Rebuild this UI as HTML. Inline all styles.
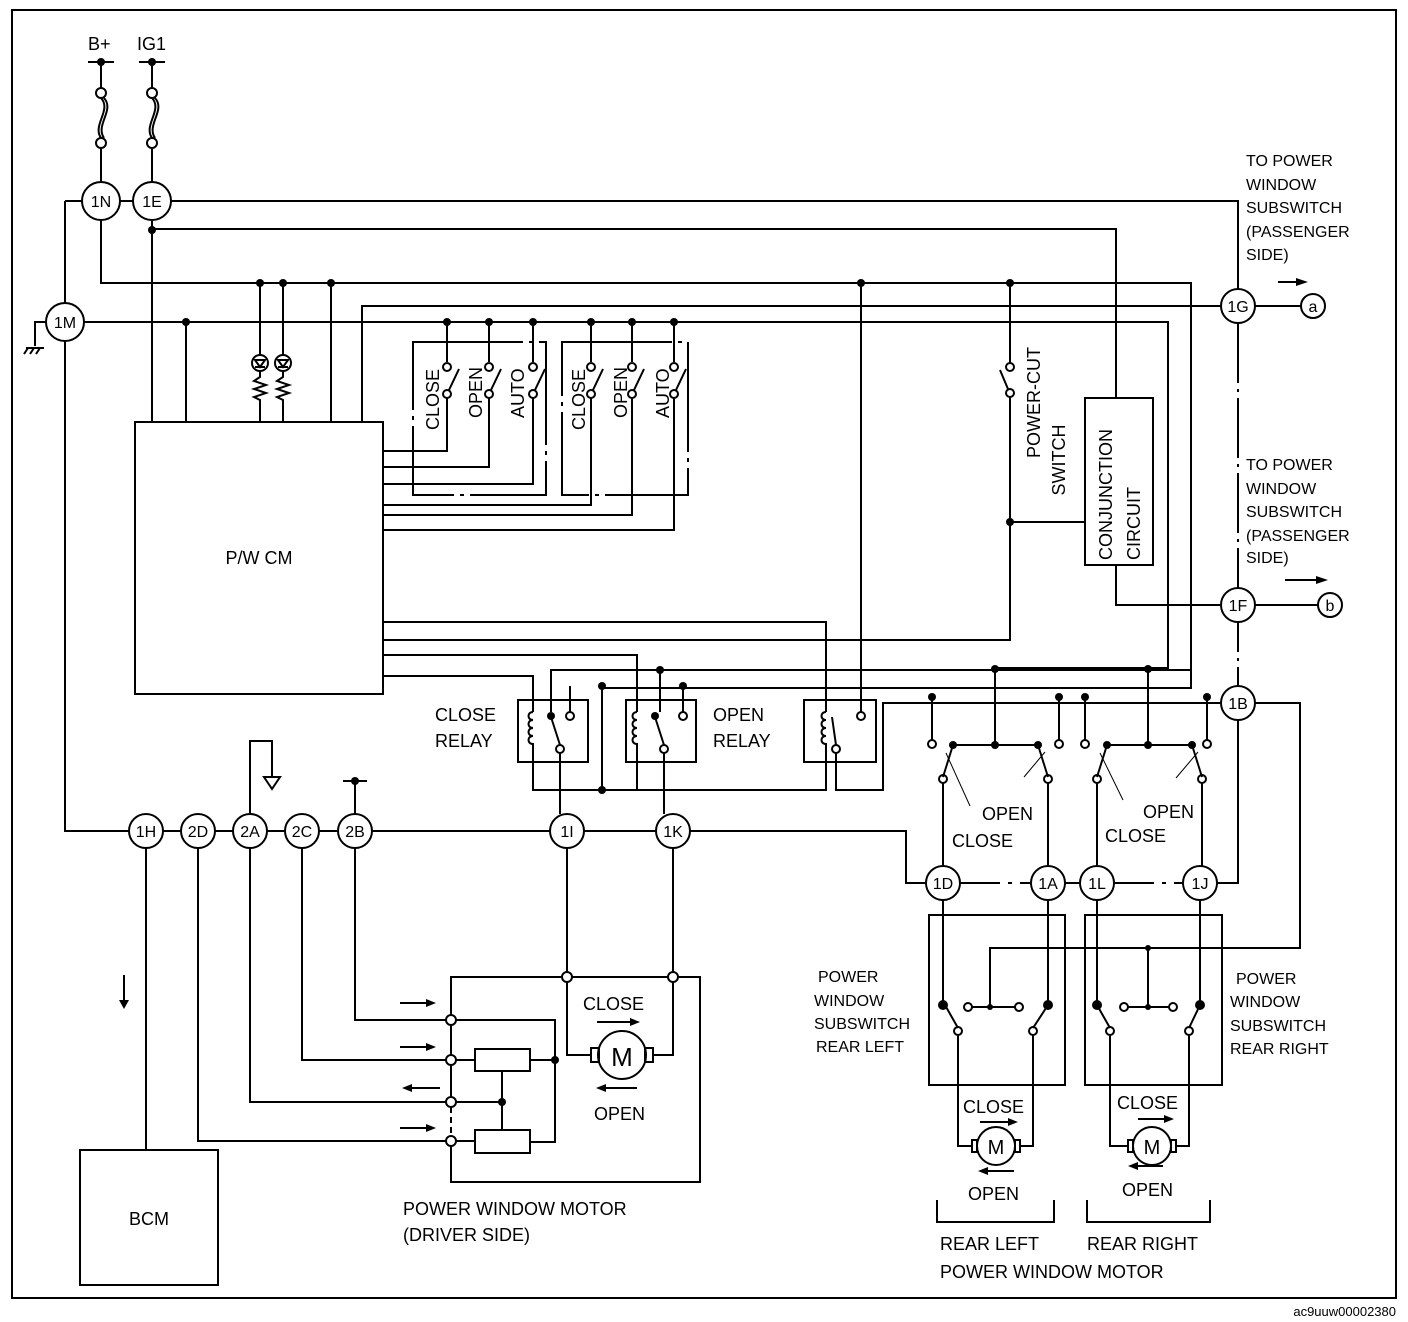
<!DOCTYPE html>
<html><head><meta charset="utf-8"><style>
html,body{margin:0;padding:0;background:#fff}
svg{display:block}
text{font-family:"Liberation Sans",Arial,sans-serif;fill:#000}
</style></head><body>
<svg width="1408" height="1322" viewBox="0 0 1408 1322" xmlns="http://www.w3.org/2000/svg">
<g fill="none" stroke="#000" stroke-width="2">
<rect x="12" y="10" width="1384" height="1288"/>
<line x1="88" y1="62" x2="114" y2="62"/><line x1="139" y1="62" x2="165" y2="62"/>
<line x1="101" y1="62" x2="101" y2="88"/><line x1="152" y1="62" x2="152" y2="88"/>
<circle cx="101" cy="93" r="5"/><circle cx="152" cy="93" r="5"/>
<path d="M101 98 C112 110 92 125 101 138"/><path d="M104 98 C115 110 95 125 104 138"/>
<path d="M152 98 C163 110 143 125 152 138"/><path d="M155 98 C166 110 146 125 155 138"/>
<circle cx="101" cy="143" r="5"/><circle cx="152" cy="143" r="5"/>
<line x1="101" y1="148" x2="101" y2="182"/><line x1="152" y1="148" x2="152" y2="182"/>
<circle cx="101" cy="201" r="19"/><circle cx="152" cy="201" r="19"/>
<circle cx="65" cy="322" r="19"/>
<circle cx="1238" cy="306" r="17"/><circle cx="1238" cy="605" r="17"/><circle cx="1238" cy="703" r="17"/>
<circle cx="146" cy="831" r="17"/><circle cx="198" cy="831" r="17"/><circle cx="250" cy="831" r="17"/>
<circle cx="302" cy="831" r="17"/><circle cx="355" cy="831" r="17"/>
<circle cx="567" cy="831" r="17"/><circle cx="673" cy="831" r="17"/>
<circle cx="943" cy="883" r="17"/><circle cx="1048" cy="883" r="17"/>
<circle cx="1097" cy="883" r="17"/><circle cx="1200" cy="883" r="17"/>
<circle cx="1313" cy="306" r="12"/><circle cx="1330" cy="605" r="12"/>
<line x1="82" y1="201" x2="65" y2="201"/><line x1="65" y1="201" x2="65" y2="303"/>
<line x1="120" y1="201" x2="133" y2="201"/>
<path d="M171 201 H1238 V289"/>
<path d="M152 220 V422"/>
<path d="M152 229 H1116 V398"/>
<path d="M101 220 V283 H1191 V688 H600"/>
<path d="M46 322 H35 V346"/><line x1="26" y1="348" x2="44" y2="348"/>
<line x1="28" y1="348" x2="24" y2="354"/><line x1="34" y1="348" x2="30" y2="354"/><line x1="40" y1="348" x2="36" y2="354"/>
<path d="M84 322 H1168 V668 H996"/>
<path d="M65 341 V831 H129"/>
<path d="M362 422 V306 H1221"/><line x1="1255" y1="306" x2="1301" y2="306"/>
<line x1="186" y1="322" x2="186" y2="422"/>
<line x1="331" y1="283" x2="331" y2="422"/>
<line x1="260" y1="283" x2="260" y2="355"/><line x1="283" y1="283" x2="283" y2="355"/>
<circle cx="260" cy="363" r="8"/><circle cx="283" cy="363" r="8"/>
<path d="M255 360 L260 367 L265 360 Z M255 367 H265"/><path d="M278 360 L283 367 L288 360 Z M278 367 H288"/>
<path d="M260 371 V377 l-6 4 12 4 -12 4 12 4 -12 4 6 3 V422"/>
<path d="M283 371 V377 l-6 4 12 4 -12 4 12 4 -12 4 6 3 V422"/>
<rect x="135" y="422" width="248" height="272"/>
<rect x="80" y="1150" width="138" height="135"/>
<path d="M413 342 H546 V495 H413 Z" stroke-dasharray="110 6 4 6"/>
<path d="M562 342 H688 V495 H562 Z" stroke-dasharray="110 6 4 6"/>
<path d="M447 322 V362 M489 322 V362 M533 322 V362 M591 322 V362 M632 322 V362 M674 322 V362"/>
<g>
<circle cx="447" cy="367" r="4"/><circle cx="447" cy="394" r="4"/><line x1="449" y1="390" x2="459" y2="369"/>
<circle cx="489" cy="367" r="4"/><circle cx="489" cy="394" r="4"/><line x1="491" y1="390" x2="501" y2="369"/>
<circle cx="533" cy="367" r="4"/><circle cx="533" cy="394" r="4"/><line x1="535" y1="390" x2="545" y2="369"/>
<circle cx="591" cy="367" r="4"/><circle cx="591" cy="394" r="4"/><line x1="593" y1="390" x2="603" y2="369"/>
<circle cx="632" cy="367" r="4"/><circle cx="632" cy="394" r="4"/><line x1="634" y1="390" x2="644" y2="369"/>
<circle cx="674" cy="367" r="4"/><circle cx="674" cy="394" r="4"/><line x1="676" y1="390" x2="686" y2="369"/>
</g>
<path d="M383 451 H447 V398 M383 467 H489 V398 M383 484 H533 V398 M383 505 H591 V398 M383 515 H632 V398 M383 530 H674 V398"/>
<path d="M1010 283 V363"/><circle cx="1010" cy="367" r="4"/><circle cx="1010" cy="393" r="4"/><line x1="1008" y1="389" x2="1000" y2="370"/>
<path d="M1010 397 V640 H383"/>
<line x1="1010" y1="522" x2="1085" y2="522"/>
<rect x="1085" y="398" width="68" height="167"/>
<path d="M1116 565 V605 H1221"/><line x1="1255" y1="605" x2="1318" y2="605"/>
<line x1="1238" y1="323" x2="1238" y2="588" stroke-dasharray="60 6 3 6"/>
<line x1="1238" y1="622" x2="1238" y2="686" stroke-dasharray="30 6 3 6"/>
<rect x="518" y="700" width="70" height="62"/><rect x="626" y="700" width="70" height="62"/><rect x="804" y="700" width="72" height="62"/>
<path d="M383 622 H826 V712 M383 655 H637 V712 M383 676 H533 V712"/>
<path d="M861 283 V712"/>
<path d="M551 712 V670 H1191 M570 712 V686 M660 670 V712 M683 686 V712"/>
<path d="M533 752 V790 H826 V752 M637 752 V790 M602 686 V790"/>
<g>
<path d="M533 712 c-6 0 -6 8 0 8 c-6 0 -6 8 0 8 c-6 0 -6 8 0 8 c-6 0 -6 8 0 8 v8"/>
<path d="M637 712 c-6 0 -6 8 0 8 c-6 0 -6 8 0 8 c-6 0 -6 8 0 8 c-6 0 -6 8 0 8 v8"/>
<path d="M826 712 c-6 0 -6 8 0 8 c-6 0 -6 8 0 8 c-6 0 -6 8 0 8 c-6 0 -6 8 0 8 v8"/>
</g>
<circle cx="570" cy="716" r="4"/><circle cx="560" cy="749" r="4"/><line x1="560" y1="745" x2="551" y2="717"/>
<circle cx="683" cy="716" r="4"/><circle cx="664" cy="749" r="4"/><line x1="664" y1="745" x2="655" y2="717"/>
<circle cx="861" cy="716" r="4"/><circle cx="836" cy="749" r="4"/><line x1="836" y1="745" x2="832" y2="717"/>
<path d="M560 753 V814 M664 753 V814"/>
<path d="M836 753 V790 H883 V703 H1221"/>
<path d="M163 831 H181 M215 831 H233 M267 831 H285 M319 831 H338 M372 831 H550 M584 831 H656 M690 831 H906 V883 H926"/>
<line x1="960" y1="883" x2="1031" y2="883" stroke-dasharray="40 8 4 8"/>
<line x1="1065" y1="883" x2="1080" y2="883"/>
<line x1="1114" y1="883" x2="1183" y2="883" stroke-dasharray="40 8 4 8"/>
<path d="M1217 883 H1238 V720"/>
<path d="M250 814 V741 H272 V777"/><path d="M264 777 H280 L272 789 Z"/>
<line x1="343" y1="781" x2="367" y2="781"/><line x1="355" y1="781" x2="355" y2="814"/>
<line x1="124" y1="975" x2="124" y2="1005"/>
<path d="M146 848 V1150"/>
<path d="M198 848 V1141 H446"/>
<path d="M250 848 V1102 H446"/>
<path d="M302 848 V1060 H446"/>
<path d="M355 848 V1020 H446"/>
<path d="M567 848 V972 M673 848 V972"/>
<path d="M451 1016 V977 H562 M571 977 H669 M678 977 H700 V1182 H451 V1146"/>
<path d="M451 1025 V1055 M451 1065 V1098"/>
<line x1="451" y1="1107" x2="451" y2="1136" stroke-dasharray="6 4"/>
<circle cx="451" cy="1020" r="5"/><circle cx="451" cy="1060" r="5"/><circle cx="451" cy="1102" r="5"/><circle cx="451" cy="1141" r="5"/>
<circle cx="567" cy="977" r="5"/><circle cx="673" cy="977" r="5"/>
<path d="M456 1020 H555 V1142 H530 M456 1060 H475 M530 1060 H555 M456 1102 H502 M456 1141 H475 M502 1071 V1130"/>
<rect x="475" y="1049" width="55" height="22"/><rect x="475" y="1130" width="55" height="23"/>
<path d="M567 982 V1055 H591 M673 982 V1055 H652"/>
<circle cx="622" cy="1055" r="24"/><rect x="591" y="1048" width="8" height="14"/><rect x="645" y="1048" width="8" height="14"/>
<!-- rear switches top -->
<path d="M932 697 V740 M1059 697 V740 M1085 697 V740 M1207 697 V740"/>
<path d="M995 669 V745 M1148 669 V745"/>
<path d="M953 745 H1038 M1107 745 H1192"/>
<circle cx="932" cy="744" r="4"/><circle cx="1059" cy="744" r="4"/><circle cx="1085" cy="744" r="4"/><circle cx="1207" cy="744" r="4"/>
<line x1="953" y1="745" x2="943" y2="777"/><line x1="1038" y1="745" x2="1048" y2="777"/>
<line x1="1107" y1="745" x2="1097" y2="777"/><line x1="1192" y1="745" x2="1202" y2="777"/>
<circle cx="943" cy="779" r="4"/><circle cx="1048" cy="779" r="4"/><circle cx="1097" cy="779" r="4"/><circle cx="1202" cy="779" r="4"/>
<path d="M943 783 V866 M1048 783 V866 M1097 783 V866 M1202 783 V866"/>
<path d="M946 753 L970 806 M1024 777 L1045 752 M1100 753 L1123 800 M1176 778 L1198 752" stroke-width="1"/>
<path d="M1255 703 H1300 V948 H990 V1005"/>
<!-- rear sub boxes -->
<rect x="929" y="915" width="136" height="170"/><rect x="1085" y="915" width="137" height="170"/>
<path d="M943 900 V1005 M1048 900 V1005 M1097 900 V1005 M1200 900 V1005"/>
<circle cx="968" cy="1007" r="4"/><circle cx="1019" cy="1007" r="4"/>
<circle cx="1124" cy="1007" r="4"/><circle cx="1173" cy="1007" r="4"/>
<path d="M972 1007 H1015 M1128 1007 H1169 M1148 948 V1007"/>
<path d="M945 1005 L958 1028 M1048 1005 L1033 1028 M1097 1005 L1110 1028 M1200 1005 L1189 1028"/>
<circle cx="958" cy="1031" r="4"/><circle cx="1033" cy="1031" r="4"/><circle cx="1110" cy="1031" r="4"/><circle cx="1189" cy="1031" r="4"/>
<path d="M958 1035 V1146 H972 M1033 1035 V1146 H1020"/>
<path d="M1110 1035 V1146 H1128 M1189 1035 V1146 H1176"/>
<circle cx="996" cy="1146" r="19"/><circle cx="1152" cy="1146" r="19"/>
<rect x="972" y="1140" width="5" height="12"/><rect x="1015" y="1140" width="5" height="12"/>
<rect x="1128" y="1140" width="5" height="12"/><rect x="1171" y="1140" width="5" height="12"/>
<path d="M937 1200 V1222 H1054 V1200 M1087 1200 V1222 H1210 V1200"/>
<path d="M1278 282 H1300 M1285 580 H1320"/>
<path d="M400 1003 H430 M400 1047 H430 M400 1128 H430 M412 1088 H440"/>
<path d="M597 1022 H635 M600 1088 H637 M980 1122 H1012 M985 1171 H1014 M1138 1119 H1168 M1135 1166 H1163"/>
</g>
<g fill="#000">
<path d="M1308 282 L1296 278 L1296 286 Z"/><path d="M1328 580 L1316 576 L1316 584 Z"/>
<path d="M436 1003 l-10 -4 v8 z M436 1047 l-10 -4 v8 z M436 1128 l-10 -4 v8 z M402 1088 l10 -4 v8 z"/>
<path d="M640 1022 l-10 -4 v8 z M596 1088 l10 -4 v8 z M1018 1122 l-10 -4 v8 z M978 1171 l10 -4 v8 z M1174 1119 l-10 -4 v8 z M1128 1166 l10 -4 v8 z"/>
<path d="M119 1000 h10 l-5 9 z"/>
<circle cx="101" cy="62" r="4"/><circle cx="152" cy="62" r="4"/><circle cx="355" cy="781" r="4"/>
<circle cx="152" cy="230" r="4"/><circle cx="260" cy="283" r="4"/><circle cx="283" cy="283" r="4"/><circle cx="331" cy="283" r="4"/>
<circle cx="861" cy="283" r="4"/><circle cx="1010" cy="283" r="4"/><circle cx="1010" cy="522" r="4"/>
<circle cx="186" cy="322" r="4"/><circle cx="447" cy="322" r="4"/><circle cx="489" cy="322" r="4"/><circle cx="533" cy="322" r="4"/>
<circle cx="591" cy="322" r="4"/><circle cx="632" cy="322" r="4"/><circle cx="674" cy="322" r="4"/>
<circle cx="660" cy="670" r="4"/><circle cx="602" cy="686" r="4"/><circle cx="683" cy="686" r="4"/><circle cx="602" cy="790" r="4"/>
<circle cx="551" cy="716" r="4"/><circle cx="655" cy="716" r="4"/>
<circle cx="995" cy="669" r="4"/><circle cx="1148" cy="669" r="4"/>
<circle cx="932" cy="697" r="4"/><circle cx="1059" cy="697" r="4"/><circle cx="1085" cy="697" r="4"/><circle cx="1207" cy="697" r="4"/>
<circle cx="953" cy="745" r="4"/><circle cx="995" cy="745" r="4"/><circle cx="1038" cy="745" r="4"/>
<circle cx="1107" cy="745" r="4"/><circle cx="1148" cy="745" r="4"/><circle cx="1192" cy="745" r="4"/>
<circle cx="943" cy="1005" r="5"/><circle cx="1048" cy="1005" r="5"/><circle cx="1097" cy="1005" r="5"/><circle cx="1200" cy="1005" r="5"/>
<circle cx="990" cy="1007" r="3"/><circle cx="1148" cy="1007" r="3"/><circle cx="1148" cy="948" r="3"/>
<circle cx="555" cy="1060" r="4"/><circle cx="502" cy="1102" r="4"/>
</g>
<g font-size="18">
<text x="88" y="50">B+</text><text x="137" y="50">IG1</text>
<g font-size="16" text-anchor="middle">
<text x="101" y="207">1N</text><text x="152" y="207">1E</text><text x="65" y="328">1M</text>
<text x="1238" y="312">1G</text><text x="1238" y="611">1F</text><text x="1238" y="709">1B</text>
<text x="146" y="837">1H</text><text x="198" y="837">2D</text><text x="250" y="837">2A</text><text x="302" y="837">2C</text><text x="355" y="837">2B</text>
<text x="567" y="837">1I</text><text x="673" y="837">1K</text>
<text x="943" y="889">1D</text><text x="1048" y="889">1A</text><text x="1097" y="889">1L</text><text x="1200" y="889">1J</text>
<text x="1313" y="312">a</text><text x="1330" y="611">b</text>
</g>
<text x="259" y="564" text-anchor="middle">P/W CM</text>
<text x="149" y="1225" text-anchor="middle">BCM</text>
<g transform="translate(439,430) rotate(-90)"><text>CLOSE</text></g>
<g transform="translate(482,418) rotate(-90)"><text>OPEN</text></g>
<g transform="translate(524,418) rotate(-90)"><text>AUTO</text></g>
<g transform="translate(585,430) rotate(-90)"><text>CLOSE</text></g>
<g transform="translate(627,418) rotate(-90)"><text>OPEN</text></g>
<g transform="translate(669,418) rotate(-90)"><text>AUTO</text></g>
<g transform="translate(1040,458) rotate(-90)"><text>POWER-CUT</text></g>
<g transform="translate(1065,440) rotate(-90)"><text text-anchor="middle" x="-20">SWITCH</text></g>
<g transform="translate(1112,560) rotate(-90)"><text>CONJUNCTION</text></g>
<g transform="translate(1140,560) rotate(-90)"><text>CIRCUIT</text></g>
<text x="435" y="721">CLOSE</text><text x="435" y="747">RELAY</text>
<text x="713" y="721">OPEN</text><text x="713" y="747">RELAY</text>
<text x="982" y="820">OPEN</text><text x="952" y="847">CLOSE</text>
<text x="1143" y="818">OPEN</text><text x="1105" y="842">CLOSE</text>
<text x="583" y="1010">CLOSE</text><text x="594" y="1120">OPEN</text>
<text x="963" y="1113">CLOSE</text><text x="968" y="1200">OPEN</text>
<text x="1117" y="1109">CLOSE</text><text x="1122" y="1196">OPEN</text>
<text x="611" y="1066" font-size="26" text-anchor="middle" dx="11">M</text>
<text x="996" y="1154" font-size="20" text-anchor="middle">M</text>
<text x="1152" y="1154" font-size="20" text-anchor="middle">M</text>
<text x="403" y="1215">POWER WINDOW MOTOR</text><text x="403" y="1241">(DRIVER SIDE)</text>
<text x="940" y="1250">REAR LEFT</text><text x="1087" y="1250">REAR RIGHT</text>
<text x="940" y="1278">POWER WINDOW MOTOR</text>
<g font-size="16">
<text x="1246" y="166">TO POWER</text><text x="1246" y="190">WINDOW</text><text x="1246" y="213">SUBSWITCH</text><text x="1246" y="237">(PASSENGER</text><text x="1246" y="260">SIDE)</text>
<text x="1246" y="470">TO POWER</text><text x="1246" y="494">WINDOW</text><text x="1246" y="517">SUBSWITCH</text><text x="1246" y="541">(PASSENGER</text><text x="1246" y="563">SIDE)</text>
<text x="818" y="982">POWER</text><text x="814" y="1006">WINDOW</text><text x="814" y="1029">SUBSWITCH</text><text x="816" y="1052">REAR LEFT</text>
<text x="1236" y="984">POWER</text><text x="1230" y="1007">WINDOW</text><text x="1230" y="1031">SUBSWITCH</text><text x="1230" y="1054">REAR RIGHT</text>
</g>
<text x="1396" y="1316" font-size="13" text-anchor="end">ac9uuw00002380</text>
</g>
</svg>
</body></html>
